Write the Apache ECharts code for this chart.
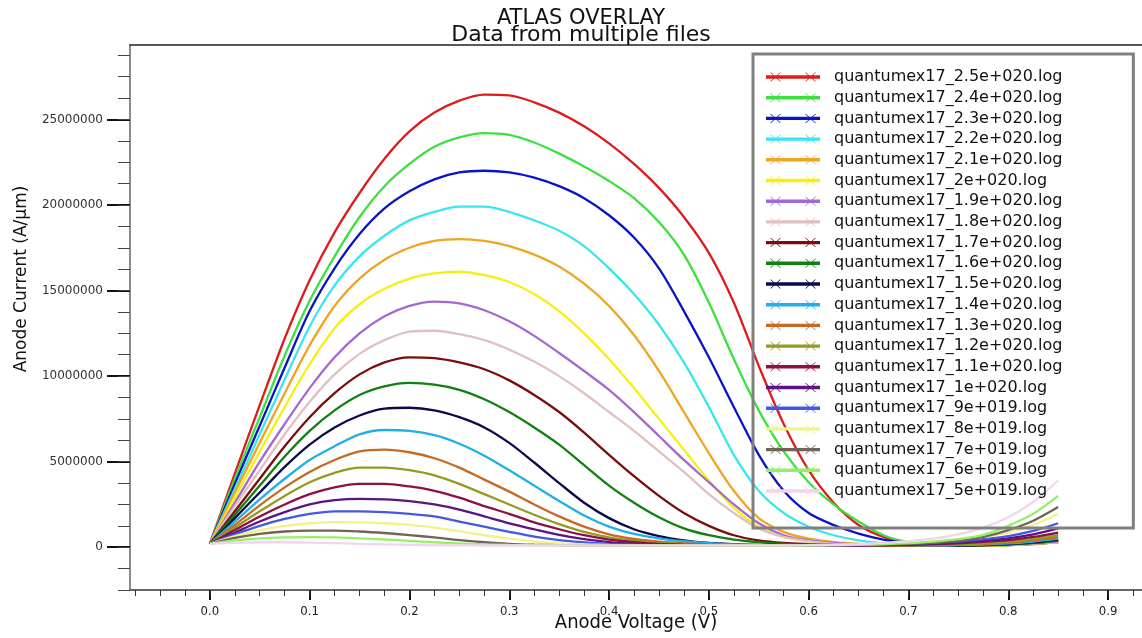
<!DOCTYPE html>
<html><head><meta charset="utf-8">
<script src="https://cdn.jsdelivr.net/npm/echarts@6/dist/echarts.min.js"></script>
<style>html,body{margin:0;padding:0;background:#fff}#c{width:1142px;height:638px}</style>
</head><body><div id="c"></div>
<script>
// Anode voltage samples (V)
const voltage = [0, 0.025, 0.05, 0.075, 0.1, 0.125, 0.15, 0.175, 0.2, 0.225, 0.25, 0.275, 0.3, 0.325, 0.35, 0.375,
  0.4, 0.425, 0.45, 0.475, 0.5, 0.525, 0.55, 0.575, 0.6, 0.625, 0.65, 0.675, 0.7, 0.725, 0.75, 0.775, 0.8, 0.825, 0.85];
// Anode current per file, in millions of A/um
const cur_2_5e20 = [0.2,4.3,8.3,12.2,15.6,18.4,20.7,22.7,24.3,25.4, 26.1,26.45,26.4,26.0,25.4,24.6,23.6,22.4,21.0,19.3, 17.2,14.3,10.6,7.2,4.5,2.6,1.3,0.6,0.25,0.12, 0.1,0.1,0.12,0.18,0.3];
const cur_2_4e20 = [0.2,4.0,7.6,11.2,14.4,17.0,19.3,21.1,22.4,23.4, 23.95,24.2,24.1,23.65,23.0,22.25,21.4,20.4,19.0,17.1, 14.3,11.0,8.0,5.6,3.8,2.5,1.5,0.7,0.3,0.15, 0.1,0.1,0.12,0.2,0.35];
const cur_2_3e20 = [0.2,3.7,7.1,10.5,13.8,16.3,18.3,19.8,20.8,21.5, 21.9,22.0,21.9,21.6,21.1,20.4,19.4,18.1,16.3,13.8, 11.1,8.2,5.4,3.3,2.0,1.3,0.8,0.45,0.25,0.15, 0.1,0.1,0.12,0.2,0.3];
const cur_2_2e20 = [0.2,3.4,6.6,9.8,12.9,15.3,17.0,18.2,19.1,19.6, 19.9,19.9,19.6,19.1,18.5,17.6,16.3,14.8,13.0,10.8, 8.2,5.4,3.3,2.0,1.2,0.7,0.4,0.22,0.14,0.1, 0.1,0.1,0.12,0.2,0.3];
const cur_2_1e20 = [0.2,3.2,6.1,9.0,11.8,14.1,15.7,16.8,17.5,17.9, 18.0,17.9,17.6,17.1,16.4,15.4,14.1,12.4,10.3,7.9, 5.5,3.3,1.7,0.9,0.5,0.3,0.2,0.14,0.1,0.1, 0.1,0.1,0.12,0.2,0.3];
const cur_2e20   = [0.2,2.9,5.6,8.2,10.7,12.8,14.2,15.1,15.7,16.0, 16.1,15.9,15.5,14.8,13.8,12.5,11.0,9.3,7.5,5.7, 3.9,2.3,1.2,0.6,0.35,0.2,0.15,0.12,0.1,0.1, 0.1,0.1,0.12,0.2,0.3];
const cur_1_9e20 = [0.2,2.6,5.0,7.2,9.3,11.1,12.5,13.5,14.1,14.35, 14.25,13.85,13.2,12.35,11.35,10.3,9.2,7.9,6.5,5.1, 3.8,2.5,1.4,0.7,0.4,0.25,0.15,0.12,0.1,0.1, 0.1,0.1,0.15,0.22,0.35];
const cur_1_8e20 = [0.2,2.4,4.5,6.6,8.5,10.1,11.3,12.1,12.6,12.65, 12.45,12.1,11.55,10.85,10.0,9.0,7.9,6.8,5.6,4.4, 3.1,2.0,1.1,0.6,0.35,0.2,0.15,0.12,0.1,0.1, 0.1,0.12,0.17,0.25,0.4];
const cur_1_7e20 = [0.2,2.1,4.0,5.9,7.6,9.0,10.1,10.8,11.1,11.05, 10.8,10.4,9.75,8.9,7.9,6.7,5.4,4.15,3.0,2.0, 1.25,0.7,0.4,0.25,0.18,0.13,0.1,0.1,0.1,0.1, 0.1,0.12,0.17,0.25,0.4];
const cur_1_6e20 = [0.2,1.9,3.6,5.3,6.8,8.0,8.9,9.4,9.6,9.5, 9.2,8.65,7.9,7.0,6.0,4.8,3.6,2.6,1.75,1.1, 0.7,0.45,0.3,0.2,0.15,0.12,0.1,0.1,0.1,0.1, 0.1,0.12,0.17,0.25,0.4];
const cur_1_5e20 = [0.2,1.7,3.2,4.7,6.0,7.0,7.7,8.1,8.15,8.0, 7.6,7.0,6.1,4.95,3.75,2.6,1.7,1.05,0.65,0.4, 0.25,0.18,0.14,0.12,0.1,0.1,0.1,0.1,0.1,0.1, 0.1,0.12,0.18,0.28,0.45];
const cur_1_4e20 = [0.2,1.5,2.8,4.0,5.1,5.9,6.6,6.85,6.8,6.55, 6.05,5.35,4.5,3.6,2.7,1.85,1.2,0.78,0.52,0.35, 0.24,0.17,0.13,0.11,0.1,0.1,0.1,0.1,0.1,0.1, 0.12,0.15,0.22,0.33,0.5];
const cur_1_3e20 = [0.2,1.3,2.45,3.5,4.4,5.1,5.6,5.7,5.55,5.2, 4.65,3.95,3.25,2.5,1.8,1.2,0.75,0.48,0.32,0.22, 0.16,0.13,0.11,0.1,0.1,0.1,0.1,0.1,0.1,0.11, 0.14,0.19,0.27,0.4,0.6];
const cur_1_2e20 = [0.2,1.15,2.1,3.0,3.8,4.35,4.65,4.65,4.5,4.2, 3.7,3.1,2.5,1.9,1.35,0.9,0.58,0.38,0.26,0.18, 0.14,0.12,0.1,0.1,0.1,0.1,0.1,0.1,0.11,0.13, 0.17,0.23,0.33,0.48,0.7];
const cur_1_1e20 = [0.2,1.0,1.8,2.5,3.1,3.5,3.7,3.7,3.55,3.3, 2.9,2.4,1.95,1.45,1.05,0.7,0.45,0.3,0.2,0.15, 0.12,0.1,0.1,0.1,0.1,0.1,0.1,0.11,0.13,0.17, 0.23,0.31,0.42,0.6,0.86];
const cur_1e20   = [0.2,0.85,1.5,2.05,2.5,2.75,2.83,2.8,2.7,2.5, 2.2,1.8,1.4,1.05,0.72,0.47,0.3,0.2,0.15,0.12, 0.1,0.1,0.1,0.1,0.1,0.1,0.11,0.13,0.16,0.21, 0.28,0.38,0.52,0.75,1.1];
const cur_9e19   = [0.2,0.75,1.25,1.65,1.95,2.1,2.1,2.05,1.95,1.8, 1.5,1.2,0.9,0.62,0.42,0.28,0.2,0.15,0.12,0.1, 0.1,0.1,0.1,0.1,0.1,0.11,0.13,0.16,0.2,0.26, 0.35,0.47,0.65,0.95,1.4];
const cur_8e19   = [0.2,0.65,1.0,1.25,1.4,1.47,1.45,1.4,1.3,1.15, 0.93,0.7,0.5,0.33,0.23,0.17,0.13,0.11,0.1,0.1, 0.1,0.1,0.1,0.1,0.11,0.13,0.16,0.2,0.26,0.34, 0.45,0.6,0.85,1.3,1.95];
const cur_7e19   = [0.2,0.55,0.78,0.92,0.97,0.97,0.92,0.83,0.71,0.57, 0.41,0.29,0.2,0.15,0.12,0.1,0.1,0.1,0.1,0.1, 0.1,0.1,0.1,0.11,0.12,0.13,0.15,0.17,0.2,0.26, 0.37,0.6,1.0,1.55,2.35];
const cur_6e19   = [0.2,0.4,0.52,0.57,0.59,0.57,0.52,0.45,0.37,0.29, 0.22,0.17,0.13,0.11,0.1,0.1,0.1,0.1,0.1,0.1, 0.1,0.1,0.1,0.1,0.11,0.12,0.14,0.18,0.24,0.33, 0.47,0.72,1.25,1.95,3.0];
const cur_5e19   = [0.2,0.26,0.29,0.29,0.27,0.24,0.2,0.17,0.14,0.12, 0.11,0.1,0.1,0.1,0.1,0.1,0.1,0.1,0.1,0.1, 0.1,0.1,0.1,0.1,0.12,0.14,0.18,0.25,0.35,0.5, 0.75,1.15,1.75,2.65,3.9];

const seriesNames = [
  'quantumex17_2.5e+020.log','quantumex17_2.4e+020.log','quantumex17_2.3e+020.log','quantumex17_2.2e+020.log',
  'quantumex17_2.1e+020.log','quantumex17_2e+020.log','quantumex17_1.9e+020.log','quantumex17_1.8e+020.log',
  'quantumex17_1.7e+020.log','quantumex17_1.6e+020.log','quantumex17_1.5e+020.log','quantumex17_1.4e+020.log',
  'quantumex17_1.3e+020.log','quantumex17_1.2e+020.log','quantumex17_1.1e+020.log','quantumex17_1e+020.log',
  'quantumex17_9e+019.log','quantumex17_8e+019.log','quantumex17_7e+019.log','quantumex17_6e+019.log',
  'quantumex17_5e+019.log'
];
const xMajorTicks = [0, 0.1, 0.2, 0.3, 0.4, 0.5, 0.6, 0.7, 0.8, 0.9];
const xMinorTicks = [-0.075, -0.05, -0.025, 0, 0.025, 0.05, 0.075, 0.1, 0.125, 0.15, 0.175, 0.2, 0.225, 0.25, 0.275, 0.3,
  0.325, 0.35, 0.375, 0.4, 0.425, 0.45, 0.475, 0.5, 0.525, 0.55, 0.575, 0.6, 0.625, 0.65, 0.675, 0.7, 0.725, 0.75,
  0.775, 0.8, 0.825, 0.85, 0.875, 0.9, 0.925];
const yMajorTicks = [0, 5000000, 10000000, 15000000, 20000000, 25000000];
const yMinorTicks = [-2500000, -1250000, 0, 1250000, 2500000, 3750000, 5000000, 6250000, 7500000, 8750000, 10000000,
  11250000, 12500000, 13750000, 15000000, 16250000, 17500000, 18750000, 20000000, 21250000, 22500000, 23750000,
  25000000, 26250000, 27500000, 28750000];

const curves = [cur_2_5e20, cur_2_4e20, cur_2_3e20, cur_2_2e20, cur_2_1e20, cur_2e20, cur_1_9e20, cur_1_8e20,
  cur_1_7e20, cur_1_6e20, cur_1_5e20, cur_1_4e20, cur_1_3e20, cur_1_2e20, cur_1_1e20, cur_1e20,
  cur_9e19, cur_8e19, cur_7e19, cur_6e19, cur_5e19];
const palette = ['#dd1c1c','#3ee03e','#0a14c4','#3ae6ee','#f0a424','#f6f010','#a468d0','#e0c0c0',
  '#7a0c0c','#108010','#0a0a4a','#22aee6','#c46a22','#949a22','#8c1044','#5c1480',
  '#4458e0','#f2f28c','#706456','#94f064','#f2d4ee'];

const legendIcon = 'path://M0,3.3L54,3.3L54,6.7L0,6.7Z M4,0.5L5,0.5L15,9.5L14,9.5Z M14,0.5L15,0.5L5,9.5L4,9.5Z M39,0.5L40,0.5L50,9.5L49,9.5Z M49,0.5L50,0.5L40,9.5L39,9.5Z M0,0L0.01,0L0.01,10L0,10Z M53.99,0L54,0L54,10L53.99,10Z';

const xMin = -0.08, xMax = 0.934, yMin = -2500000, yMax = 29350000;
const sansFont = 'DejaVu Sans';
const narrowFont = "'DejaVu Sans Condensed', 'Liberation Sans', sans-serif";

const series = seriesNames.map((name, k) => ({
  name: name,
  type: 'line',
  showSymbol: false,
  smooth: 0.3,
  animation: false,
  emphasis: { disabled: true },
  lineStyle: { width: 2.3, color: palette[k] },
  itemStyle: { color: palette[k] },
  data: voltage.map((v, i) => [v, curves[k][i] * 1e6])
}));

const chart = echarts.init(document.getElementById('c'));
chart.setOption({
  animation: false,
  backgroundColor: '#ffffff',
  title: [
    { text: 'ATLAS OVERLAY', left: 576, top: 3, textAlign: 'center',
      textStyle: { fontFamily: sansFont, fontSize: 21, fontWeight: 'normal', color: '#111' } },
    { text: 'Data from multiple files', left: 576, top: 19, textAlign: 'center',
      textStyle: { fontFamily: sansFont, fontSize: 22, fontWeight: 'normal', color: '#111' } }
  ],
  grid: { left: 130, right: 0, top: 45, bottom: 48, containLabel: false, outerBoundsMode: 'none' },
  legend: {
    orient: 'vertical', left: 753, top: 54,
    padding: [13, 71, 27, 13],
    borderColor: '#808080', borderWidth: 3, backgroundColor: 'transparent',
    itemWidth: 54, itemHeight: 10, itemGap: 0.7,
    icon: legendIcon,
    selectedMode: false,
    textStyle: { fontFamily: sansFont, fontSize: 16, color: '#111', lineHeight: 20, padding: [0, 0, 0, 9] },
    data: seriesNames
  },
  xAxis: [
    { type: 'value', position: 'bottom', min: xMin, max: xMax,
      name: 'Anode Voltage (V)', nameLocation: 'middle', nameGap: 23, nameMoveOverlap: false,
      nameTextStyle: { fontFamily: narrowFont, fontSize: 20, color: '#111' },
      axisLine: { show: true, onZero: false, lineStyle: { color: '#666', width: 2 } },
      axisTick: { show: true, length: 10, customValues: xMajorTicks, lineStyle: { color: '#111', width: 2 } },
      axisLabel: { customValues: xMajorTicks, margin: 15, formatter: v => v.toFixed(1),
        fontFamily: narrowFont, fontSize: 13, color: '#222' },
      splitLine: { show: false } },
    { type: 'value', position: 'bottom', min: xMin, max: xMax,
      axisLine: { show: false, onZero: false },
      axisTick: { show: true, length: 6, customValues: xMinorTicks, lineStyle: { color: '#333', width: 1 } },
      axisLabel: { show: false }, splitLine: { show: false } },
    { type: 'value', position: 'top', min: xMin, max: xMax,
      axisLine: { show: true, onZero: false, lineStyle: { color: '#222', width: 1.5 } },
      axisTick: { show: false }, axisLabel: { show: false }, splitLine: { show: false } }
  ],
  yAxis: [
    { type: 'value', position: 'left', min: yMin, max: yMax,
      name: 'Anode Current (A/µm)', nameLocation: 'middle', nameGap: 100, nameMoveOverlap: false,
      nameTextStyle: { fontFamily: sansFont, fontSize: 17, color: '#111', padding: [0, 0, 0, 77] },
      axisLine: { show: true, onZero: false, lineStyle: { color: '#666', width: 1.5 } },
      axisTick: { show: true, length: 23, customValues: yMajorTicks, lineStyle: { color: '#111', width: 2 } },
      axisLabel: { customValues: yMajorTicks, margin: 27, formatter: v => String(v),
        fontFamily: sansFont, fontSize: 12, color: '#333' },
      splitLine: { show: false } },
    { type: 'value', position: 'left', min: yMin, max: yMax,
      axisLine: { show: false, onZero: false },
      axisTick: { show: true, length: 12, customValues: yMinorTicks, lineStyle: { color: '#444', width: 1 } },
      axisLabel: { show: false }, splitLine: { show: false } }
  ],
  series: series
});
</script></body></html>
